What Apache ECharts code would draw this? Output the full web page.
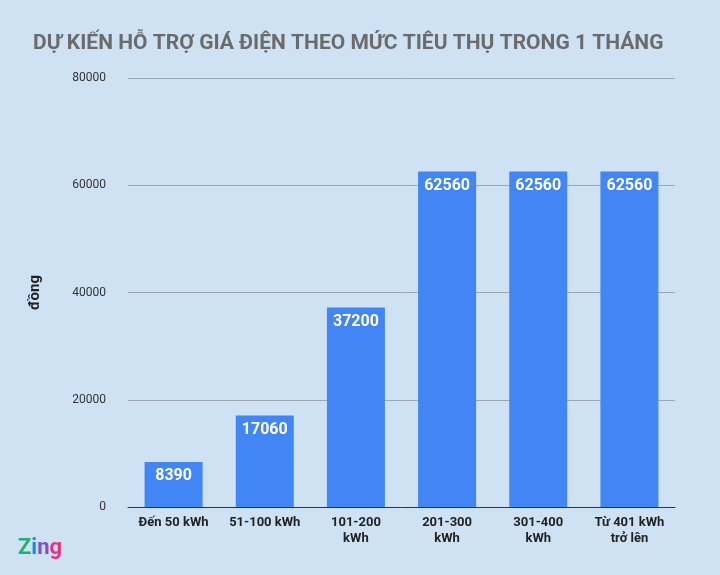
<!DOCTYPE html>
<html>
<head>
<meta charset="utf-8">
<script src="https://cdn.jsdelivr.net/npm/echarts@6/dist/echarts.min.js"></script>
<style>
  html, body { margin: 0; padding: 0; background: #cfe2f3; }
  #chart { width: 720px; height: 575px; }
</style>
</head>
<body>
<div id="chart"></div>
<script>
// mức tiêu thụ và số tiền hỗ trợ
const categories = ['Đến 50 kWh', '51-100 kWh', '101-200\nkWh', '201-300\nkWh', '301-400\nkWh', 'Từ 401 kWh\ntrở lên']
const values = [8390, 17060, 37200, 62560, 62560, 62560]

const chart = echarts.init(document.getElementById('chart'))
chart.setOption({
    backgroundColor: '#cfe2f3',
    animation: false,
    title: {
        text: 'DỰ KIẾN HỖ TRỢ GIÁ ĐIỆN THEO MỨC TIÊU THỤ TRONG 1 THÁNG',
        left: 28, top: 28,
        textStyle: { fontFamily: 'Roboto', fontSize: 21, fontWeight: 'bold', color: '#6b6b6b' },
    },
    grid: { left: 128, right: 45, top: 78, bottom: 68 },
    xAxis: {
        type: 'category',
        data: categories,
        axisTick: { show: false },
        axisLine: { lineStyle: { color: '#333' } },
        axisLabel: { color: '#222', fontFamily: 'Roboto', fontSize: 13, fontWeight: 'bold', margin: 8, lineHeight: 16, interval: 0 },
    },
    yAxis: {
        type: 'value',
        min: 0, max: 80000, interval: 20000,
        name: 'đồng',
        nameLocation: 'middle',
        nameRotate: 90,
        nameGap: 85,
        nameTextStyle: { color: '#222', fontFamily: 'Roboto', fontSize: 15, fontWeight: 'bold' },
        axisLabel: { color: '#333', fontFamily: 'Roboto', fontSize: 12, margin: 22, formatter: (v) => String(v) },
        splitLine: { lineStyle: { color: '#9aa7b2' } },
    },
    series: [{
        type: 'bar',
        data: values,
        barWidth: 58,
        itemStyle: { color: '#4285f4' },
        label: {
            show: true, position: 'insideTop', distance: 6,
            color: '#fff', fontFamily: 'Roboto', fontSize: 16, fontWeight: 'bold',
        },
    }],
    graphic: [{
        type: 'text', left: 18, top: 537,
        style: {
            text: '{z|Z}{i|i}{n|n}{g|g}',
            rich: {
                z: { fontFamily: 'Roboto', fontSize: 22, fontWeight: 'bold', fill: '#1fb26b' },
                i: { fontFamily: 'Roboto', fontSize: 22, fontWeight: 'bold', fill: '#1e88e5' },
                n: { fontFamily: 'Roboto', fontSize: 22, fontWeight: 'bold', fill: '#7b4fd6' },
                g: { fontFamily: 'Roboto', fontSize: 22, fontWeight: 'bold', fill: '#e8317a' },
            },
        },
    }],
})
</script>
</body>
</html>
